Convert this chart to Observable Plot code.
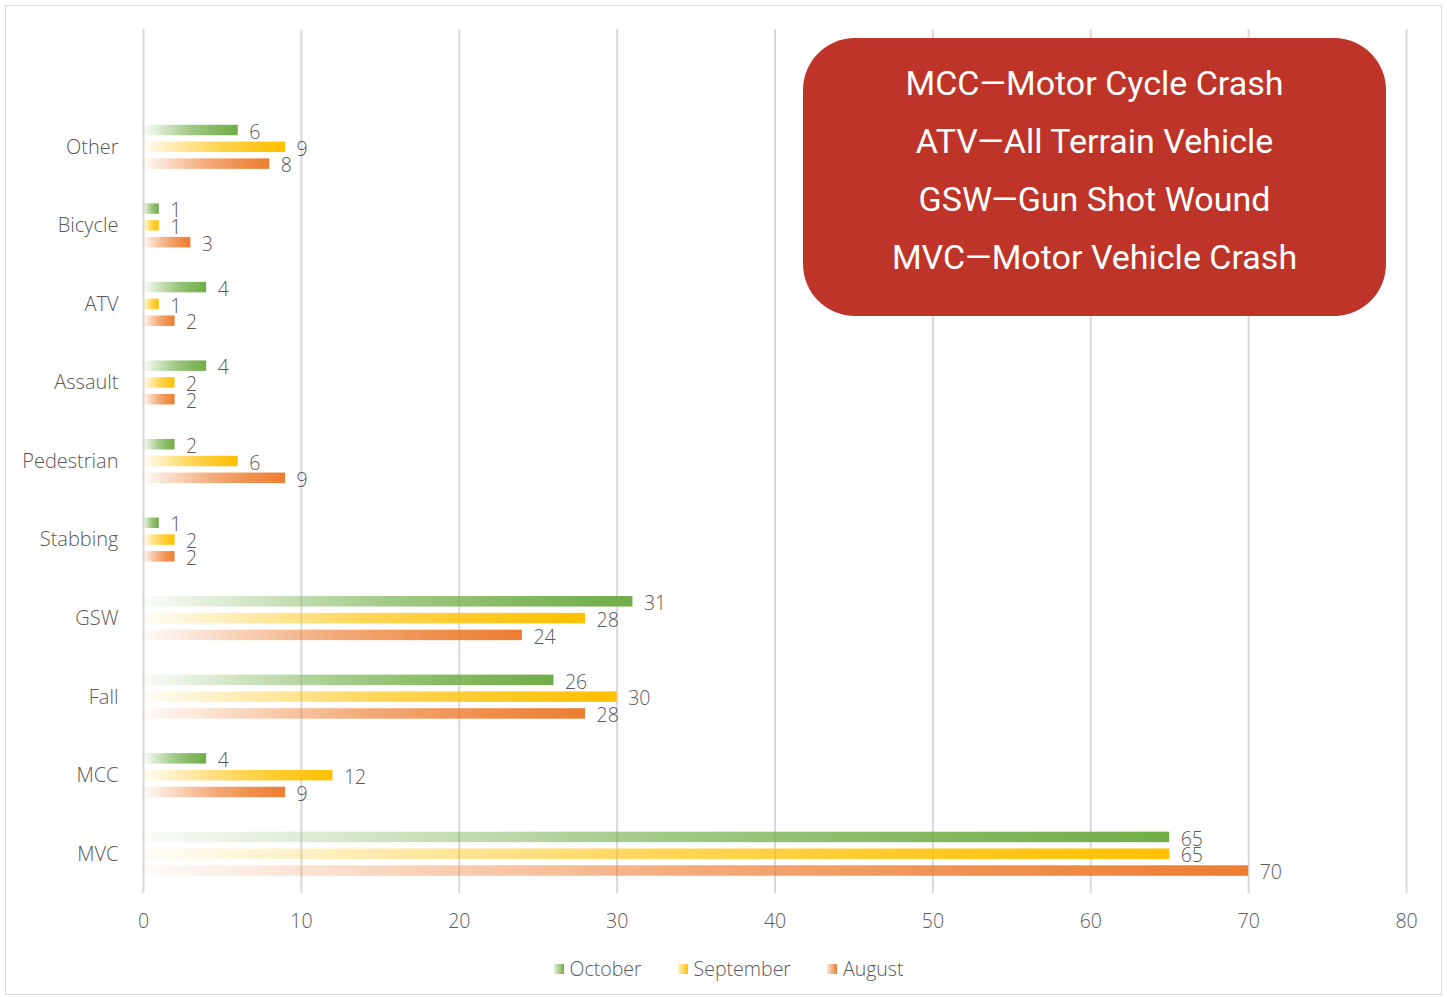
<!DOCTYPE html>
<html>
<head>
<meta charset="utf-8">
<script src="https://cdn.jsdelivr.net/npm/d3@7"></script>
<script src="https://cdn.jsdelivr.net/npm/@observablehq/plot@0.6"></script>
<style>
  html, body { margin: 0; padding: 0; background: #fff; }
  #page { position: relative; width: 1447px; height: 997px; overflow: hidden; font-family: "Open Sans", sans-serif; font-weight: 300; }
  #frame { position: absolute; left: 5px; top: 5px; width: 1435px; height: 988px; border: 1.5px solid #d9d9d9; }
  #chart { position: absolute; left: 0; top: 0; }
  #chart svg text { font-weight: 300; }
  #box { position: absolute; left: 803px; top: 38px; width: 583px; height: 278px; background: #BE3428; border-radius: 52px;
         color: #fff; font-family: Roboto, sans-serif; font-size: 34px; text-align: center; padding-top: 16px; box-sizing: border-box; font-weight: 400; }
  #box div { line-height: 58px; height: 58px; }
  #legend { position: absolute; top: 955px; left: 0; width: 1447px; display: flex; justify-content: center; gap: 36px;
            font-size: 19.5px; color: #595959; padding-left: 10px; box-sizing: border-box; }
  #legend span.item { display: inline-flex; align-items: center; gap: 6px; }
  #legend span.sw { display: inline-block; width: 10px; height: 10px; }
</style>
</head>
<body>
<div id="page">
  <div id="frame"></div>
  <div id="chart"></div>
  <div id="box"></div>
  <div id="legend"></div>
</div>
<script>
// ---- data ----
const categories = ["Other","Bicycle","ATV","Assault","Pedestrian","Stabbing","GSW","Fall","MCC","MVC"];
const october   = [6, 1, 4, 4, 2, 1, 31, 26, 4, 65];
const september = [9, 1, 1, 2, 6, 2, 28, 30, 12, 65];
const august    = [8, 3, 2, 2, 9, 2, 24, 28, 9, 70];
const seriesNames = ["October", "September", "August"];
const seriesColors = ["#70AD47", "#FFC000", "#ED7D31"];
const xTicks = [0, 10, 20, 30, 40, 50, 60, 70, 80];
const abbreviations = ["MCC—Motor Cycle Crash", "ATV—All Terrain Vehicle", "GSW—Gun Shot Wound", "MVC—Motor Vehicle Crash"];

// ---- layout ----
const width = 1447, height = 945;
const marginTop = 29, marginBottom = 52, marginLeft = 143, marginRight = 41;
const spacer = "__spacer__";
const yDomain = [spacer, ...categories];
const step = (height - marginTop - marginBottom) / yDomain.length;
const barH = 10.5, offset = 16.8;

const seriesValues = [october, september, august];
const ids = ["gOct", "gSep", "gAug"];

const marks = [
  Plot.gridX({ticks: xTicks, stroke: "#d9d9d9", strokeOpacity: 1, strokeWidth: 2}),
  Plot.axisX({ticks: xTicks, tickSize: 0, tickPadding: 21, fill: "#595959", label: null}),
  Plot.axisY({tickSize: 0, tickPadding: 25, fill: "#595959", fontSize: 20, label: null, tickFormat: d => d === spacer ? "" : d})
];
seriesValues.forEach((vals, i) => {
  const data = categories.map((c, j) => ({category: c, value: vals[j]}));
  const rel = (i - 1) * offset;
  const top = step / 2 + rel - barH / 2;
  const bottom = step - top - barH;
  marks.push(Plot.barX(data, {x: "value", y: "category", fill: `url(#${ids[i]})`, insetTop: top, insetBottom: bottom}));
  marks.push(Plot.text(data, {x: "value", y: "category", text: d => String(d.value), textAnchor: "start",
    dx: 11, dy: rel + 2, fill: "#595959", fontSize: 19.5}));
});

const chart = Plot.plot({
  width, height, marginTop, marginBottom, marginLeft, marginRight,
  x: {domain: [0, 80], axis: null},
  y: {domain: yDomain, padding: 0, round: false, axis: null},
  style: {fontSize: "19.5px", fontFamily: "'Open Sans', sans-serif", color: "#595959", background: "transparent"},
  marks
});

const defs = d3.select(chart).insert("defs", ":first-child");
ids.forEach((id, i) => {
  const g = defs.append("linearGradient").attr("id", id).attr("x1", "0").attr("x2", "1").attr("y1", "0").attr("y2", "0");
  [[0, 0.03], [0.25, 0.35], [0.5, 0.65], [0.75, 0.85], [1, 1]].forEach(([o, a]) =>
    g.append("stop").attr("offset", o).attr("stop-color", seriesColors[i]).attr("stop-opacity", a));
});
document.getElementById("chart").appendChild(chart);

const box = document.getElementById("box");
abbreviations.forEach(t => { const d = document.createElement("div"); d.textContent = t; box.appendChild(d); });

const legend = document.getElementById("legend");
seriesNames.forEach((n, i) => {
  const it = document.createElement("span"); it.className = "item";
  const sw = document.createElement("span"); sw.className = "sw";
  sw.style.background = `linear-gradient(to right, ${seriesColors[i]}33, ${seriesColors[i]})`;
  it.appendChild(sw);
  it.appendChild(document.createTextNode(n));
  legend.appendChild(it);
});
</script>
</body>
</html>
